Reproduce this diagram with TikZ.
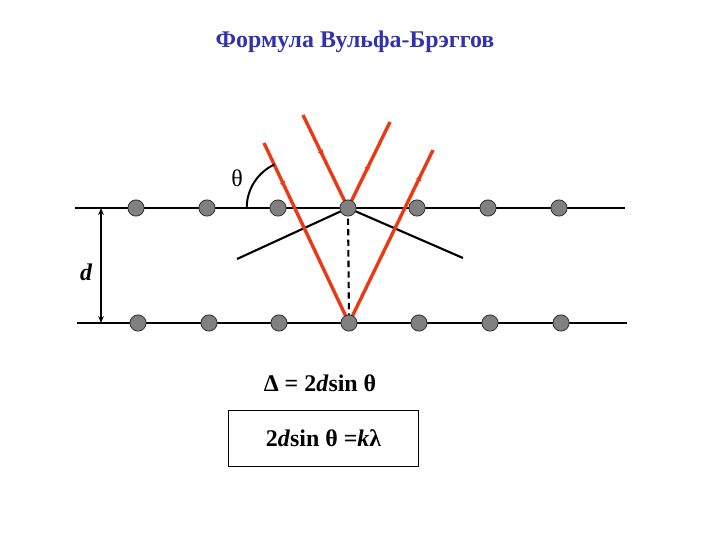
\documentclass[tikz,border=0pt]{standalone}
\usepackage{fontspec}
\setmainfont{Liberation Serif}
\usetikzlibrary{arrows.meta, decorations.markings, backgrounds}
\definecolor{raycolor}{RGB}{236,56,20}
\definecolor{titleblue}{RGB}{50,50,170}
\definecolor{atomgray}{RGB}{128,128,128}

\begin{document}
\begin{tikzpicture}[x=0.025cm, y=-0.025cm,
  atom/.style={circle, fill=atomgray, draw=black!80, line width=0.6pt, minimum size=11.5pt, inner sep=0pt},
  plane/.style={line width=1.6pt},
  ray/.style={raycolor, line width=2.4pt, postaction={decorate},
    decoration={markings, mark=at position #1 with {\arrow{Stealth[length=5pt,width=4pt]}}}},
  formula/.style={font=\bfseries\fontsize{17}{20}\selectfont, inner sep=2pt}]

\useasboundingbox (0,0) rectangle (720,540);

\node[font=\bfseries\fontsize{17}{20}\selectfont, text=titleblue] (title) at (355,42) {Формула Вульфа-Брэггов};

% atoms, upper plane
\node[atom] (t1) at (136,208) {};
\node[atom] (t2) at (207,208) {};
\node[atom] (t3) at (278,208) {};
\node[atom] (t4) at (348,208) {};
\node[atom] (t5) at (417,208) {};
\node[atom] (t6) at (488,208) {};
\node[atom] (t7) at (559,208) {};

% atoms, lower plane
\node[atom] (b1) at (138,323) {};
\node[atom] (b2) at (209,323) {};
\node[atom] (b3) at (279,323) {};
\node[atom] (b4) at (349,323) {};
\node[atom] (b5) at (419,323) {};
\node[atom] (b6) at (490,323) {};
\node[atom] (b7) at (561,323) {};

\coordinate (tl) at (75,208);  \coordinate (tr) at (625,208);
\coordinate (bl) at (77,323);  \coordinate (br) at (627,323);
\coordinate (da) at (101,208); \coordinate (db) at (101,323);
\coordinate (hit) at (294.7,208);
\coordinate (wl) at (237,259); \coordinate (wr) at (463,258);
\coordinate (in1) at (264,143); \coordinate (in2) at (303,115);
\coordinate (out1) at (390,122); \coordinate (out2) at (433,150);

\begin{scope}[on background layer]
\draw[plane] (tl) -- (tr);
\draw[plane] (bl) -- (br);

\draw[line width=1.5pt] (t4.center) -- (wl);
\draw[line width=1.5pt] (t4.center) -- (wr);
\draw[line width=1.5pt, dash pattern=on 4.5pt off 3pt] (t4.center) -- (b4.center);

\draw[ray=0.25] (in1) -- (b4.center);
\draw[ray=0.45] (in2) -- (t4.center);
\draw[ray=0.52] (t4.center) -- (out1);
\draw[ray=0.86] (b4.center) -- (out2);
\end{scope}

% angle and spacing
\draw[line width=1.4pt] (hit) ++(-48,0) arc[start angle=180, end angle=245, radius=48];
\node[font=\fontsize{17}{20}\selectfont] (theta) at (237,178) {θ};

\draw[line width=1.5pt, {Stealth[length=5pt,width=4pt]}-{Stealth[length=5pt,width=4pt]}] (da) -- (db);
\node[formula, font=\bfseries\itshape\fontsize{17}{20}\selectfont] (dlab) at (86,272) {d};

\node[formula] (delta) at (320,383) {Δ = 2\textit{d}sin θ};
\node[formula, draw, line width=0.8pt, minimum width=135.5pt, minimum height=40.4pt] (box) at (323.5,438.5) {2\textit{d}sin θ =\textit{k}λ};

\end{tikzpicture}
\end{document}
